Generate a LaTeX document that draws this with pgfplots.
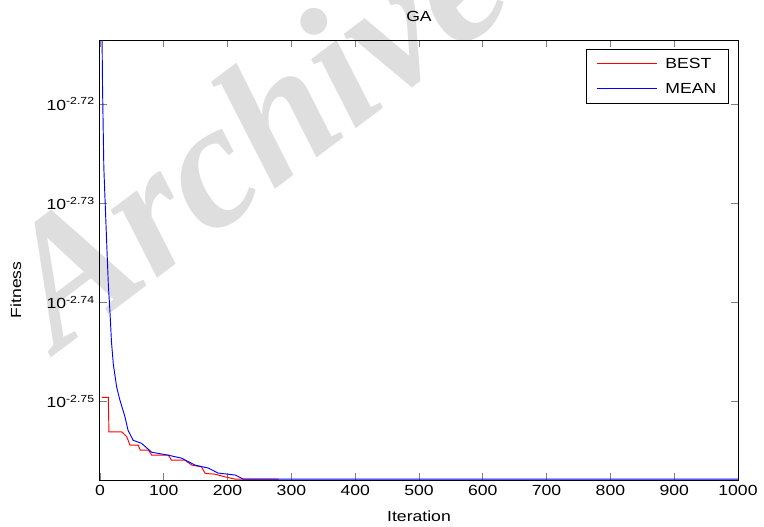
\documentclass[border=0pt]{standalone}
\usepackage{fontspec}
\setmainfont{Liberation Sans}[FakeStretch=1.2]
\newfontfamily\wmfont{Liberation Serif}[BoldItalicFont={Liberation Serif Bold Italic}]
\usepackage{pgfplots}
\pgfplotsset{compat=1.18}

% best and mean fitness, y stored as log10(fitness)
\pgfplotstableread{
it    y
3     -2.74958
13    -2.74958
14    -2.75304
34    -2.75304
42    -2.75355
47    -2.75439
60    -2.75439
63    -2.75489
76    -2.75489
81    -2.75539
107   -2.75539
112   -2.75590
133   -2.75590
144   -2.75640
159   -2.75657
165   -2.75724
180   -2.75731
196   -2.75758
212   -2.75782
280   -2.75782
}\best
\pgfplotstableread{
it    y
2     -2.7050
4     -2.7184
6     -2.7264
9     -2.7315
13    -2.7381
16    -2.7414
18    -2.7440
21    -2.7463
24    -2.7476
26    -2.7485
31    -2.7498
39    -2.7515
44    -2.7529
52    -2.7539
65    -2.7542
81    -2.7551
107   -2.7554
128   -2.7557
149   -2.7564
170   -2.7567
185   -2.7572
212   -2.7574
225   -2.75782
1000  -2.75782
}\mean

\begin{document}
\fontsize{11}{13}\selectfont
\begin{tikzpicture}
% watermark
\node[rotate=37, text=black!13, font=\wmfont\bfseries\itshape\fontsize{134}{136}\selectfont]
  at (114pt,262pt) {Archive};
\begin{axis}[name=ax,
  scale only axis, width=478.5pt, height=330pt,
  xmin=0, xmax=1000, ymin=-2.7579, ymax=-2.71355,
  xtick={0,100,...,1000},
  ytick={-2.75,-2.74,-2.73,-2.72},
  yticklabels={10\textsuperscript{-2.75},10\textsuperscript{-2.74},10\textsuperscript{-2.73},10\textsuperscript{-2.72}},
  /pgf/number format/assume math mode=true,
  /pgf/number format/1000 sep={},
  tick align=inside, major tick length=5pt,
  axis line style={line width=0.75pt},
  tick style={line width=0.6pt},
  title={GA},
  title style={at={(axis description cs:0.5,1.036)}, anchor=center},
  xlabel={Iteration},
  xlabel style={at={(axis description cs:0.5,-0.082)}, anchor=center},
  ylabel={Fitness},
  ylabel style={at={(axis description cs:-0.1317,0.432)}, anchor=center},
]
\addplot[draw=red, line width=0.7pt] table[x=it, y=y] {\best};
\addplot[draw=blue, line width=0.7pt] table[x=it, y=y] {\mean};
\end{axis}
% legend, built by hand (the legend matrix lost the line colours)
\node[draw=black, fill=white, line width=0.6pt, anchor=north east, inner sep=0pt,
  minimum width=106.5pt, minimum height=40.5pt] (lg)
  at ([shift={(-6.75pt,-6.75pt)}]ax.north east) {};
\node[anchor=west, inner sep=0pt] at ([shift={(59.25pt,-10.5pt)}]lg.north west) {BEST};
\node[anchor=west, inner sep=0pt] at ([shift={(59.25pt,-29.25pt)}]lg.north west) {MEAN};
\draw[draw=red, line width=0.7pt] ([shift={(8.25pt,-10.5pt)}]lg.north west) -- ++(45pt,0pt);
\draw[draw=blue, line width=0.7pt] ([shift={(8.25pt,-29.25pt)}]lg.north west) -- ++(45pt,0pt);
\pgfresetboundingbox
\path[use as bounding box] ([shift={(-75pt,-34.5pt)}]ax.south west) rectangle ([shift={(19.5pt,30pt)}]ax.north east);
\end{tikzpicture}
\end{document}
